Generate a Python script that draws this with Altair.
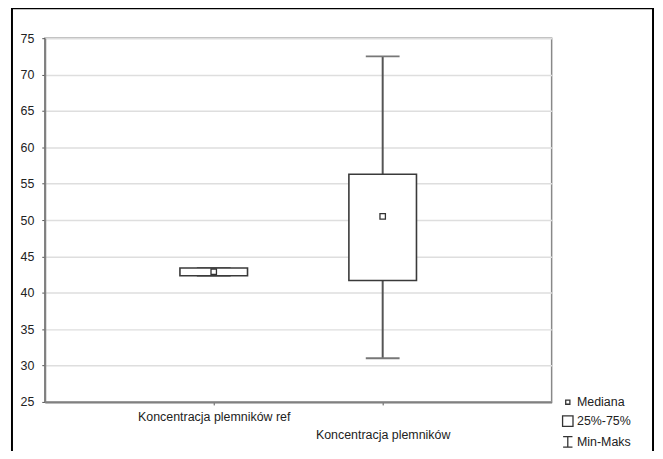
import altair as alt
import pandas as pd

# ---- data ----
categories = ["Koncentracja plemników ref", "Koncentracja plemników"]
positions = [1, 2]
mins = [42.35, 31.0]
q1s = [42.35, 41.7]
medians = [42.9, 50.5]
q3s = [43.4, 56.3]
maxs = [43.4, 72.5]
y_ticks = [25, 30, 35, 40, 45, 50, 55, 60, 65, 70, 75]

legend_items = ["Mediana", "25%-75%", "Min-Maks"]
legend_paths = [
    "M-0.4,-0.4H0.4V0.4H-0.4Z",
    "M-1,-1H1V1H-1Z",
    "M-0.9,-1H0.9M0,-1V1M-0.9,1H0.9",
]

df = pd.DataFrame({
    "cat": categories, "pos": positions, "min": mins, "q1": q1s,
    "median": medians, "q3": q3s, "max": maxs,
})
leg = pd.DataFrame({"item": legend_items})

FONT = "Liberation Sans"
xscale = alt.Scale(domain=[0, 3], nice=False, zero=False)
yscale = alt.Scale(domain=[25, 75], nice=False, zero=False)

label_expr = ("datum.value == 1 ? 'Koncentracja plemników ref' : "
              "(datum.value == 2 ? ['', 'Koncentracja plemników'] : '')")

base = alt.Chart(df).transform_calculate(
    xl="datum.pos - 0.2", xr="datum.pos + 0.2",
    cl="datum.pos - 0.1", cr="datum.pos + 0.1",
)

xaxis = alt.Axis(values=positions, labelExpr=label_expr, title=None, grid=False,
                 tickSize=3, labelPadding=6, labelLineHeight=18,
                 labelFont=FONT, labelFontSize=12.5, labelColor="#222",
                 labelOverlap=False,
                 domainColor="#808080", domainWidth=2, tickColor="#555")
yaxis = alt.Axis(values=y_ticks, title=None, grid=True, labelOverlap=False,
                 gridColor="#dedede", gridWidth=1.5, tickSize=3, labelPadding=8,
                 labelFont=FONT, labelFontSize=12.5, labelColor="#222",
                 domainColor="#808080", domainWidth=2, tickColor="#555")


def X(field):
    return alt.X(field, scale=xscale, axis=xaxis)


def Y(field):
    return alt.Y(field, scale=yscale, axis=yaxis)


whisk_up = base.mark_rule(color="#555", strokeWidth=2).encode(
    x=X("pos:Q"), y=Y("q3:Q"), y2="max:Q")
whisk_dn = base.mark_rule(color="#555", strokeWidth=2).encode(
    x=X("pos:Q"), y=Y("min:Q"), y2="q1:Q")
cap_up = base.mark_rule(color="#777", strokeWidth=2).encode(
    x=X("cl:Q"), x2="cr:Q", y=Y("max:Q"))
cap_dn = base.mark_rule(color="#777", strokeWidth=2).encode(
    x=X("cl:Q"), x2="cr:Q", y=Y("min:Q"))
box = base.mark_rect(fill="white", stroke="#3a3a3a", strokeWidth=1.6).encode(
    x=X("xl:Q"), x2="xr:Q", y=Y("q1:Q"), y2="q3:Q")
med = base.mark_square(size=30, fill="white", stroke="#333", strokeWidth=1.3,
                       opacity=1).encode(x=X("pos:Q"), y=Y("median:Q"))

legend_layer = alt.Chart(leg).mark_point(opacity=0, filled=False).encode(
    x=alt.value(0), y=alt.value(0),
    shape=alt.Shape("item:N", scale=alt.Scale(domain=legend_items, range=legend_paths),
                    legend=alt.Legend(orient="none", legendX=520, legendY=360,
                                      title=None, padding=0, symbolSize=110,
                                      symbolOpacity=1, symbolStrokeColor="#333",
                                      symbolFillColor="white", symbolStrokeWidth=1.3,
                                      labelFont=FONT, labelFontSize=12.5,
                                      labelColor="#222", labelOffset=3,
                                      rowPadding=4)),
)

frame = alt.Chart(pd.DataFrame({"a": [0]})).mark_rect(
    fill=None, stroke="black", strokeWidth=2, clip=False).encode(
    x=alt.value(-33), x2=alt.value(612), y=alt.value(-30), y2=alt.value(440))

chart = alt.layer(frame, whisk_up, whisk_dn, cap_up, cap_dn, box, med, legend_layer).properties(
    width=510, height=366,
    autosize=alt.AutoSizeParams(type="none"),
    padding={"left": 37, "top": 29, "right": 104, "bottom": 48},
    background="white",
).configure_view(stroke="#888", strokeWidth=1.5)

chart.save("out.html", embed_options={"renderer": "svg", "actions": False})
